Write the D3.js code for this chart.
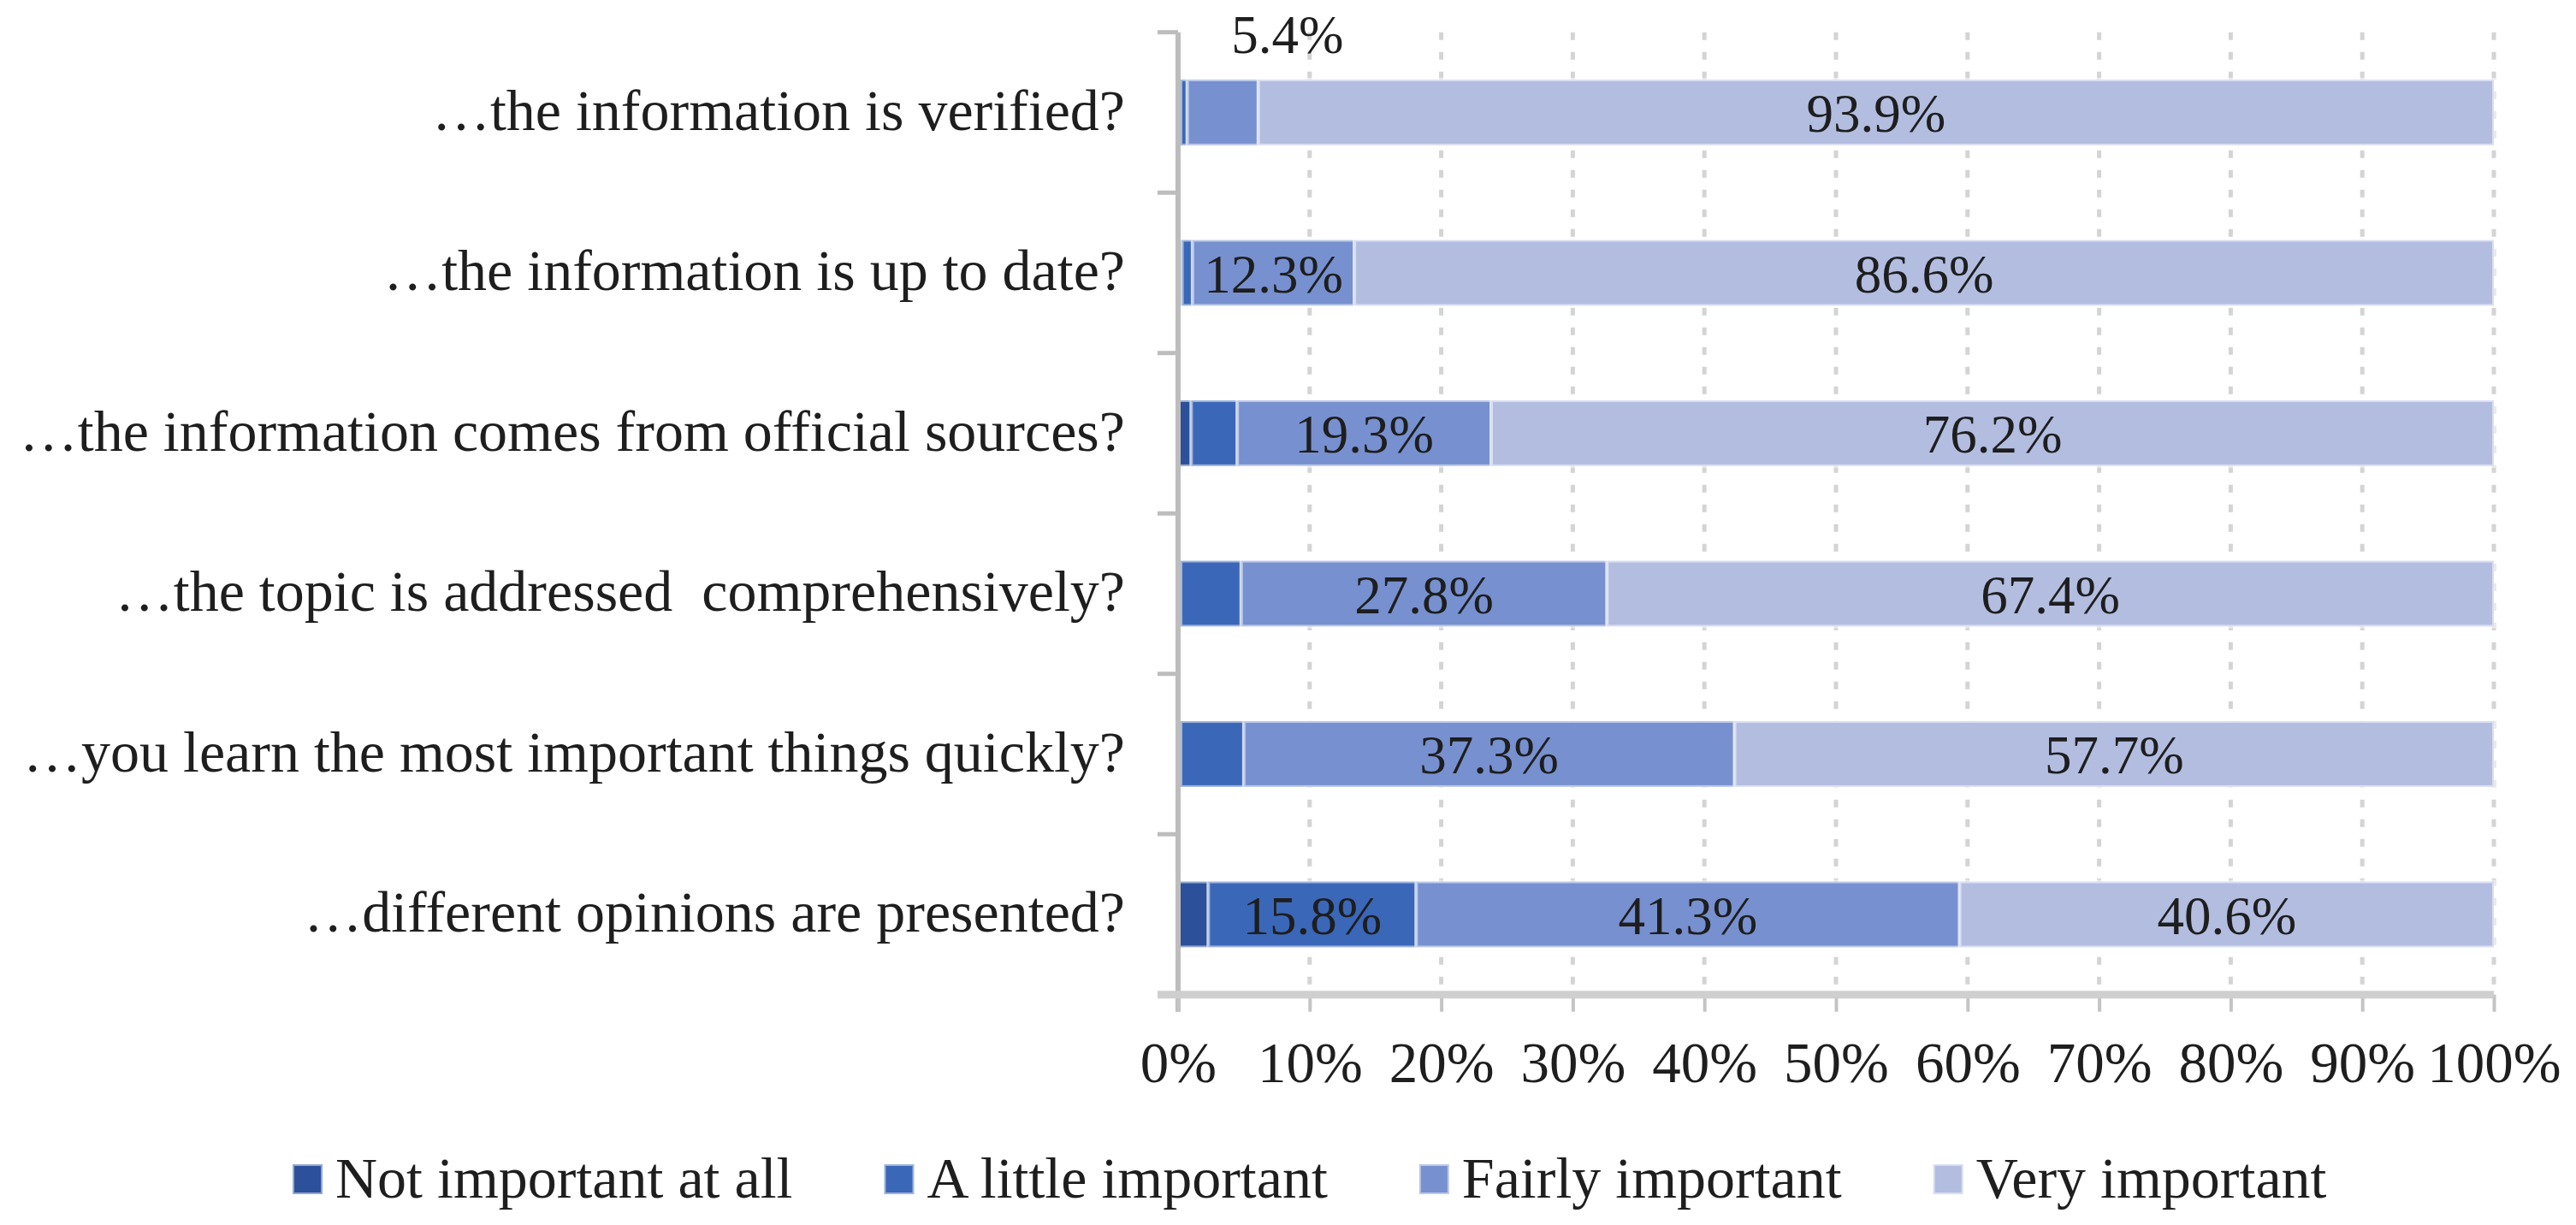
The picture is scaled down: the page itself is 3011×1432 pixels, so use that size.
<!DOCTYPE html>
<html>
<head>
<meta charset="utf-8">
<script src="https://cdnjs.cloudflare.com/ajax/libs/d3/7.8.5/d3.min.js"></script>
<style>
  body { margin: 0; background: #fff; }
  svg { display: block; font-family: "Liberation Serif", "Times New Roman", serif; }
</style>
</head>
<body>
<div id="viz"></div>
<script>
// categories, top to bottom
var categories = [
  '\u2026the information is verified?',
  '\u2026the information is up to date?',
  '\u2026the information comes from official sources?',
  '\u2026the topic is addressed  comprehensively?',
  '\u2026you learn the most important things quickly?',
  '\u2026different opinions are presented?'
];

var seriesNames = ['Not important at all', 'A little important', 'Fairly important', 'Very important'];

// percentages per category
var notAtAll = [0.2, 0.3, 1.0, 0.2, 0.2, 2.3];
var aLittle  = [0.5, 0.8, 3.5, 4.6, 4.8, 15.8];
var fairly   = [5.4, 12.3, 19.3, 27.8, 37.3, 41.3];
var very     = [93.9, 86.6, 76.2, 67.4, 57.7, 40.6];

var xTicks = [0, 10, 20, 30, 40, 50, 60, 70, 80, 90, 100];

var colors = ['#2c519a', '#3b67b8', '#7790cf', '#b2bde0'];

var W = 3011, H = 1432;
var svg = d3.select('#viz').append('svg')
  .attr('width', W)
  .attr('height', H);

svg.append('rect').attr('width', W).attr('height', H).attr('fill', '#fff');

var x = d3.scaleLinear().domain([0, 100]).range([1377, 2915]);
var y = d3.scaleBand().domain(categories).range([37.7, 1162.7])
  .paddingInner(0.59).paddingOuter(0.295);

var rows = categories.map(function(c, i) {
  return { cat: c, s0: notAtAll[i], s1: aLittle[i], s2: fairly[i], s3: very[i] };
});
var keys = ['s0', 's1', 's2', 's3'];
var stacked = d3.stack().keys(keys)(rows);

// gridlines
svg.append('g').selectAll('line')
  .data(xTicks.slice(1))
  .enter().append('line')
  .attr('x1', function(d) { return x(d); })
  .attr('x2', function(d) { return x(d); })
  .attr('y1', y.range()[0])
  .attr('y2', y.range()[1])
  .attr('stroke', '#d4d4d4')
  .attr('stroke-width', 5)
  .attr('stroke-dasharray', '9,14');

// bars
var layers = svg.append('g').selectAll('g')
  .data(stacked)
  .enter().append('g')
  .attr('fill', function(d, i) { return colors[i]; });

layers.selectAll('rect')
  .data(function(d) { return d; })
  .enter().append('rect')
  .attr('x', function(d) { return x(d[0]); })
  .attr('width', function(d) { return x(d[1]) - x(d[0]); })
  .attr('y', function(d) { return y(d.data.cat); })
  .attr('height', y.bandwidth())
  .attr('stroke', '#ffffff')
  .attr('stroke-opacity', 0.5)
  .attr('stroke-width', 4);

// axes
var step = y.step();
var catTicks = d3.range(categories.length + 1).map(function(k) { return y.range()[0] + k * step; });

var axisG = svg.append('g');
axisG.append('line')
  .attr('x1', x(0)).attr('x2', x(0))
  .attr('y1', y.range()[0]).attr('y2', y.range()[1] + 20)
  .attr('stroke', '#bdbdbd').attr('stroke-width', 6);
axisG.selectAll('.ct')
  .data(catTicks)
  .enter().append('line')
  .attr('x1', x(0) - 24).attr('x2', x(0))
  .attr('y1', function(d) { return d; })
  .attr('y2', function(d) { return d; })
  .attr('stroke', '#bdbdbd').attr('stroke-width', 5);

var xAxis = d3.axisBottom(x)
  .tickValues(xTicks)
  .tickSize(20)
  .tickPadding(35)
  .tickFormat(function(d) { return d + '%'; });

var xg = svg.append('g')
  .attr('transform', 'translate(0,' + y.range()[1] + ')')
  .call(xAxis);
xg.select('.domain').remove();
xg.selectAll('.tick line').attr('stroke', '#c4c4c4').attr('stroke-width', 4);
xg.selectAll('.tick text')
  .attr('font-family', '"Liberation Serif", serif')
  .attr('font-size', 67)
  .attr('fill', '#1e1e1e');
xg.append('line')
  .attr('x1', x(0) - 24).attr('x2', x(100))
  .attr('y1', 0).attr('y2', 0)
  .attr('stroke', '#cfcfcf').attr('stroke-width', 9);

// category labels
svg.append('g').selectAll('text')
  .data(categories)
  .enter().append('text')
  .attr('x', 1315)
  .attr('y', function(d) { return y(d) + y.bandwidth() / 2; })
  .attr('dy', '0.3em')
  .attr('text-anchor', 'end')
  .attr('font-size', 68)
  .attr('fill', '#1e1e1e')
  .style('white-space', 'pre')
  .text(function(d) { return d; });

// data labels (values of 5% and more)
var labelG = svg.append('g');
stacked.forEach(function(layer) {
  layer.forEach(function(d) {
    var v = d[1] - d[0];
    if (v < 5) return;
    var txt = labelG.append('text')
      .attr('font-size', 63)
      .attr('fill', '#1e1e1e')
      .text(v.toFixed(1) + '%');
    var tw = txt.node().getComputedTextLength();
    var segW = x(d[1]) - x(d[0]);
    var cy = y(d.data.cat) + y.bandwidth() / 2;
    if (tw > segW) {
      // too narrow: put it above the bar
      txt.attr('x', (x(d[0]) + x(d[1])) / 2 + 10)
        .attr('y', y(d.data.cat) - 31)
        .attr('text-anchor', 'start');
    } else {
      txt.attr('x', (x(d[0]) + x(d[1])) / 2)
        .attr('y', cy)
        .attr('dy', '0.36em')
        .attr('text-anchor', 'middle');
    }
  });
});

// legend
var legend = svg.append('g');
var lx = 340;
seriesNames.forEach(function(name, i) {
  legend.append('rect')
    .attr('x', lx + 2).attr('y', 1361)
    .attr('width', 35).attr('height', 35)
    .attr('fill', colors[i])
    .attr('stroke', '#ffffff').attr('stroke-opacity', 0.5).attr('stroke-width', 4);
  var t = legend.append('text')
    .attr('x', lx + 52).attr('y', 1400)
    .attr('font-size', 68)
    .attr('fill', '#1e1e1e')
    .text(name);
  lx = lx + 52 + t.node().getComputedTextLength() + 105;
});
</script>
</body>
</html>
